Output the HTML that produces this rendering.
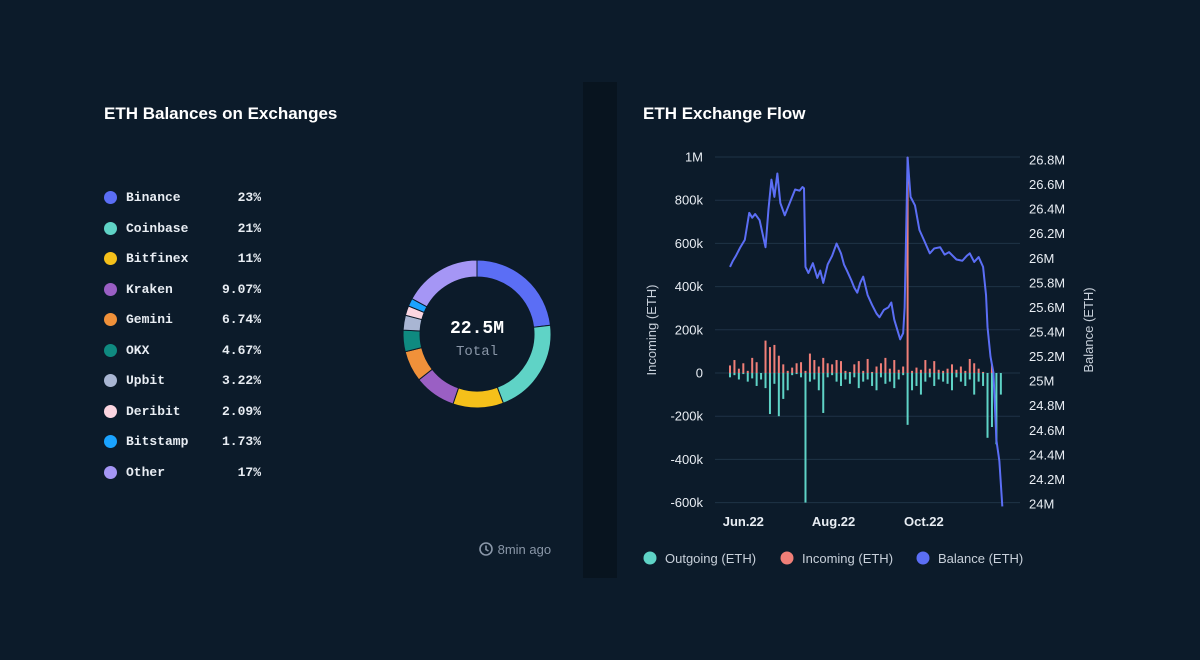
<!DOCTYPE html>
<html><head><meta charset="utf-8"><style>
body{margin:0;width:1200px;height:660px;background:#0c1b2a;font-family:"Liberation Sans",sans-serif;overflow:hidden;position:relative}
.t{position:absolute;color:#fff;font-weight:bold;font-size:17px}
.row{position:absolute;left:104px;width:157px;height:16px;font-family:"Liberation Mono",monospace;font-size:13px;font-weight:bold;color:#e8edf3}
.row .d{position:absolute;left:0;top:1px;width:13px;height:13px;border-radius:50%}
.row .n{position:absolute;left:22px;top:0}
.row .p{position:absolute;right:0;top:0}
</style></head><body>
<div class="t" style="left:104px;top:104px">ETH Balances on Exchanges</div>
<div class="t" style="left:643px;top:104px">ETH Exchange Flow</div>
<div style="position:absolute;left:583px;top:82px;width:34px;height:496px;background:#08141f"></div>
<div id="legend"></div>
<svg id="donut" width="1200" height="660" style="position:absolute;left:0;top:0"></svg>
<div style="position:absolute;left:478px;top:541px;color:#8a97a8;font-size:13px">
<svg width="16" height="16" style="vertical-align:-3px"><circle cx="8" cy="8" r="6" fill="none" stroke="#8a97a8" stroke-width="1.6"/><path d="M8 4.5V8.5L10.5 10" fill="none" stroke="#8a97a8" stroke-width="1.6"/></svg> 8min ago</div>
<svg id="flow" width="1200" height="660" style="position:absolute;left:0;top:0"></svg>
<script>
const names=["Binance","Coinbase","Bitfinex","Kraken","Gemini","OKX","Upbit","Deribit","Bitstamp","Other"];
const shares=[23,21,11,9.07,6.74,4.67,3.22,2.09,1.73,17];
const shareLabels=["23%","21%","11%","9.07%","6.74%","4.67%","3.22%","2.09%","1.73%","17%"];
const colors=["#5b6ef5","#5fd3c6","#f5c01a","#9a5fc4","#f0913a","#0f8a80","#a9b6d3","#fbd5e0","#1aa3ff","#a596f5"];
const NS="http://www.w3.org/2000/svg";
const leg=document.getElementById('legend');
names.forEach((n,i)=>{
 const r=document.createElement('div');r.className='row';r.style.top=(190+i*30.5)+'px';
 
 
 r.innerHTML='<div class="d" style="background:'+colors[i]+'"></div><span class="n">'+n+'</span><span class="p">'+shareLabels[i]+'</span>';
 leg.appendChild(r);
});
const dn=document.getElementById('donut');
const cx=477,cy=334,R=74,r0=57;
const tot=shares.reduce((a,b)=>a+b,0);let a0=0;
shares.forEach((s,i)=>{
 const a1=a0+s/tot*2*Math.PI;
 const p=(a,rr)=>[cx+rr*Math.sin(a),cy-rr*Math.cos(a)];
 const [x1,y1]=p(a0,R),[x2,y2]=p(a1,R),[x3,y3]=p(a1,r0),[x4,y4]=p(a0,r0);
 const lg=(a1-a0)>Math.PI?1:0;
 const e=document.createElementNS(NS,'path');
 e.setAttribute('d',`M${x1} ${y1}A${R} ${R} 0 ${lg} 1 ${x2} ${y2}L${x3} ${y3}A${r0} ${r0} 0 ${lg} 0 ${x4} ${y4}Z`);
 e.setAttribute('fill',colors[i]);e.setAttribute('stroke','#0c1b2a');e.setAttribute('stroke-width','1');
 
 
 dn.appendChild(e);a0=a1;
});
dn.insertAdjacentHTML('beforeend','<text x="477" y="333" text-anchor="middle" fill="#fff" font-family="Liberation Mono,monospace" font-weight="bold" font-size="18">22.5M</text><text x="477" y="355" text-anchor="middle" fill="#8a97a8" font-family="Liberation Mono,monospace" font-size="14">Total</text>');

// flow chart data
const leftTicks=[1000,800,600,400,200,0,-200,-400,-600];
const leftTickLabels=["1M","800k","600k","400k","200k","0","-200k","-400k","-600k"];
const rightTicks=[26.8,26.6,26.4,26.2,26,25.8,25.6,25.4,25.2,25,24.8,24.6,24.4,24.2,24];
const rightTickLabels=["26.8M","26.6M","26.4M","26.2M","26M","25.8M","25.6M","25.4M","25.2M","25M","24.8M","24.6M","24.4M","24.2M","24M"];
const monthDays=[9,70,131];
const monthLabels=["Jun.22","Aug.22","Oct.22"];
const balDays=[0,2,4,7,10,13,15,17,20,22,24,26,28,30,32,34,37,40,44,47,49,50,51,53,56,59,61,63,66,69,72,75,77,79,82,84,86,88,90,93,96,99,101,104,107,109,111,113,115,117,118,119,120,122,125,128,131,135,138,142,145,148,153,157,160,162,165,168,171,173,174,176,178,180,182,184];
const balVals=[25.93,25.98,26.02,26.09,26.15,26.37,26.33,26.36,26.31,26.2,26.09,26.4,26.64,26.5,26.69,26.45,26.35,26.44,26.56,26.55,26.58,26.57,25.93,25.88,25.96,25.84,25.9,25.8,25.95,26.02,26.12,26.04,25.95,25.9,25.82,25.76,25.72,25.8,25.85,25.7,25.62,25.55,25.52,25.58,25.6,25.64,25.5,25.42,25.34,25.39,25.6,26.2,26.82,26.5,26.43,26.23,26.15,26.04,26.08,26.09,26.03,26.05,25.99,25.98,26.02,26.04,25.97,26.01,25.93,25.7,25.44,25.2,25.07,24.52,24.35,23.98];
const flowDays=[0,3,6,9,12,15,18,21,24,27,30,33,36,39,42,45,48,51,54,57,60,63,66,69,72,75,78,81,84,87,90,93,96,99,102,105,108,111,114,117,120,123,126,129,132,135,138,141,144,147,150,153,156,159,162,165,168,171,174,177,180,183];
const incoming=[35,60,20,45,10,70,50,0,150,120,130,80,40,10,25,45,50,10,90,60,30,70,45,40,60,55,10,5,40,55,10,65,5,30,45,70,20,60,15,30,1000,10,25,15,60,20,55,15,10,20,40,15,30,10,65,45,20,5,0,40,0,0];
const outgoing=[-20,-10,-30,-5,-40,-25,-60,-30,-70,-190,-50,-200,-120,-80,-10,-5,-20,-600,-40,-30,-80,-185,-20,-10,-40,-60,-30,-50,-20,-70,-40,-30,-60,-80,-20,-50,-40,-70,-30,-10,-240,-80,-60,-100,-40,-20,-60,-30,-40,-50,-80,-20,-40,-60,-30,-100,-40,-60,-300,-250,-330,-100];
const fl=document.getElementById('flow');
const yL=v=>373-v/200*43.2;
const yR=v=>160+(26.8-v)/0.2*24.57;
const xD=d=>730+d*1.48;
function add(tag,attrs,name,txt){const e=document.createElementNS(NS,tag);for(const k in attrs)e.setAttribute(k,attrs[k]);
 
 
 if(txt!==undefined)e.textContent=txt;fl.appendChild(e);return e;}
leftTicks.forEach((v,i)=>{
 add('line',{x1:715,x2:1020,y1:yL(v),y2:yL(v),stroke:'#1e3346','stroke-width':1},'gridline');
 add('text',{x:703,y:yL(v)+4.5,'text-anchor':'end',fill:'#e8edf3','font-size':13},'left-tick-label',leftTickLabels[i]);
});
rightTicks.forEach((v,i)=>add('text',{x:1029,y:yR(v)+4.5,fill:'#e8edf3','font-size':13},'right-tick-label',rightTickLabels[i]));
monthDays.forEach((d,i)=>add('text',{x:xD(d),y:526,'text-anchor':'middle',fill:'#e8edf3','font-size':13,'font-weight':'bold'},'x-tick-label',monthLabels[i]));
add('text',{x:0,y:0,transform:'translate(656,330) rotate(-90)','text-anchor':'middle',fill:'#c8d0da','font-size':13},'left-axis-title','Incoming (ETH)');
add('text',{x:0,y:0,transform:'translate(1093,330) rotate(-90)','text-anchor':'middle',fill:'#c8d0da','font-size':13},'right-axis-title','Balance (ETH)');
flowDays.forEach((d,i)=>{
 const x=xD(d)-1;
 if(incoming[i]>0)add('rect',{x:x,y:yL(incoming[i]),width:2,height:yL(0)-yL(incoming[i]),fill:'#f07f78'},'incoming-bar');
 if(outgoing[i]<0)add('rect',{x:x,y:yL(0),width:2,height:yL(outgoing[i])-yL(0),fill:'#5fd3c6'},'outgoing-bar');
});
add('polyline',{points:balDays.map((d,i)=>xD(d)+','+yR(balVals[i])).join(' '),fill:'none',stroke:'#5b6ef5','stroke-width':2,'stroke-linejoin':'round'},'balance-line');
[["Outgoing (ETH)","#5fd3c6",650],["Incoming (ETH)","#f07f78",787],["Balance (ETH)","#5b6ef5",923]].forEach(l=>{
 add('circle',{cx:l[2],cy:558,r:6.5,fill:l[1]},'legend-marker');
 add('text',{x:l[2]+15,y:563,fill:'#c8d0da','font-size':13},'legend-label',l[0]);
});
</script>
</body></html>
